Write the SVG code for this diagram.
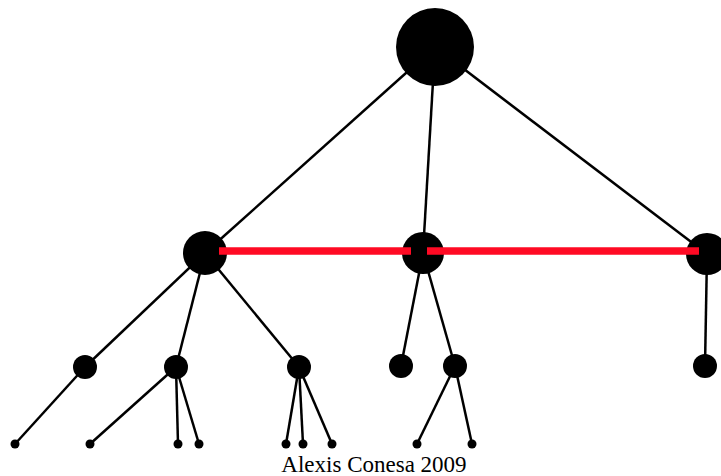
<svg xmlns="http://www.w3.org/2000/svg" width="721" height="476" viewBox="0 0 721 476">
<style>
.e{stroke:#000;stroke-width:2.5;fill:none}
.r{stroke:#ff0a24;stroke-width:7.5;fill:none}
.n{fill:#000}
.t{font-family:"Liberation Serif",serif;font-size:23px;fill:#000}
</style>
<rect width="721" height="476" fill="#fff"/>
<g id="connectors">
<line class="e" x1="435" y1="47" x2="205" y2="253"/>
<line class="e" x1="435" y1="47" x2="423" y2="253"/>
<line class="e" x1="435" y1="47" x2="707" y2="254"/>
<line class="e" x1="205" y1="253" x2="85" y2="367"/>
<line class="e" x1="205" y1="253" x2="176" y2="367"/>
<line class="e" x1="205" y1="253" x2="299" y2="367"/>
<line class="e" x1="423" y1="253" x2="401" y2="366"/>
<line class="e" x1="423" y1="253" x2="455" y2="366"/>
<line class="e" x1="707" y1="254" x2="705" y2="366"/>
<line class="e" x1="85" y1="367" x2="15" y2="444"/>
<line class="e" x1="176" y1="367" x2="90" y2="444"/>
<line class="e" x1="176" y1="367" x2="178" y2="444"/>
<line class="e" x1="176" y1="367" x2="199" y2="444"/>
<line class="e" x1="299" y1="367" x2="286" y2="444"/>
<line class="e" x1="299" y1="367" x2="303" y2="444"/>
<line class="e" x1="299" y1="367" x2="332" y2="444"/>
<line class="e" x1="455" y1="366" x2="417" y2="444"/>
<line class="e" x1="455" y1="366" x2="472" y2="444"/>
</g>
<g id="root"><circle class="n" cx="435" cy="47" r="39"/></g>
<g id="n1"><circle class="n" cx="205" cy="253" r="22"/></g>
<g id="n2"><circle class="n" cx="423" cy="253" r="21"/></g>
<g id="n3"><circle class="n" cx="707" cy="254" r="21"/></g>
<g id="n11"><circle class="n" cx="85" cy="367" r="12"/></g>
<g id="n12"><circle class="n" cx="176" cy="367" r="12"/></g>
<g id="n13"><circle class="n" cx="299" cy="367" r="12"/></g>
<g id="n21"><circle class="n" cx="401" cy="366" r="12"/></g>
<g id="n22"><circle class="n" cx="455" cy="366" r="12"/></g>
<g id="n31"><circle class="n" cx="705" cy="366" r="12"/></g>
<g id="l1"><circle class="n" cx="15" cy="444" r="4.5"/></g>
<g id="l2"><circle class="n" cx="90" cy="444" r="4.5"/></g>
<g id="l3"><circle class="n" cx="178" cy="444" r="4.5"/></g>
<g id="l4"><circle class="n" cx="199" cy="444" r="4.5"/></g>
<g id="l5"><circle class="n" cx="286" cy="444" r="4.5"/></g>
<g id="l6"><circle class="n" cx="303" cy="444" r="4.5"/></g>
<g id="l7"><circle class="n" cx="332" cy="444" r="4.5"/></g>
<g id="l8"><circle class="n" cx="417" cy="444" r="4.5"/></g>
<g id="l9"><circle class="n" cx="472" cy="444" r="4.5"/></g>
<g id="red-connectors">
<line class="r" x1="219" y1="251" x2="411" y2="251"/>
<line class="r" x1="427" y1="251" x2="699" y2="251"/>
</g>
<text class="t" x="374" y="472" text-anchor="middle">Alexis Conesa 2009</text>
</svg>
